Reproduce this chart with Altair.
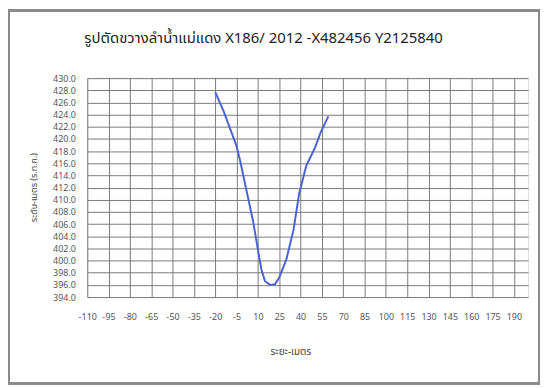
import altair as alt
import pandas as pd

# Cross-section profile
distance = [-20, -14, -8, -5, -2.5, 2, 6.5, 10, 12.5, 15, 18.5, 22, 25, 30, 35, 39, 44, 50, 54, 59.5]
elevation = [427.7, 424.5, 420.7, 418.8, 416.4, 411.5, 406.6, 401.8, 398.5, 396.6,
             396.0, 396.1, 397.2, 400.2, 405.0, 411.0, 415.6, 418.5, 421.0, 423.7]

x_ticks = list(range(-110, 191, 15))
y_ticks = list(range(394, 431, 2))

title_text = "รูปตัดขวางลำน้ำแม่แดง X186/ 2012 -X482456 Y2125840"
x_title = "ระยะ-เมตร"
y_title = "ระดับ-เมตร (ร.ท.ก.)"

df = pd.DataFrame({"d": distance, "z": elevation})

FONT = "Tahoma, Noto Sans Thai, Noto Sans, DejaVu Sans, sans-serif"

line = alt.Chart(df).mark_line(color="#4a64d2", strokeWidth=2).encode(
    x=alt.X("d:Q",
            scale=alt.Scale(domain=[-110, 200], nice=False, zero=False),
            axis=alt.Axis(values=x_ticks, title=x_title, grid=True, ticks=False,
                          domain=False, labelPadding=16, labelFontSize=9,
                          labelColor="#555555", labelFont=FONT,
                          gridColor="#7a7a7a", gridWidth=1, gridOpacity=1,
                          titleFont=FONT, titleFontSize=10, titleFontWeight="normal",
                          titleColor="#444444", titleX=205, titleY=55,
                          titleBaseline="middle", labelFlush=False)),
    y=alt.Y("z:Q",
            scale=alt.Scale(domain=[394, 430], nice=False, zero=False),
            axis=alt.Axis(values=y_ticks, format=".1f", title=y_title, grid=True,
                          ticks=False, domain=False, labelPadding=12, labelFontSize=9,
                          labelColor="#555555", labelFont=FONT,
                          gridColor="#7a7a7a", gridWidth=1, gridOpacity=1,
                          titleFont=FONT, titleFontSize=9, titleFontWeight="normal",
                          titleColor="#444444", titleX=-54, titleY=110,
                          titleBaseline="middle", titleAngle=-90, labelFlush=False)),
    order=alt.Order("d:Q"),
)

frame = alt.Chart(df).mark_rect(fill=None, stroke="#8a8a8a", strokeWidth=2).encode(
    x=alt.value(-79), x2=alt.value(456), y=alt.value(-68), y2=alt.value(308)
)

title = alt.Chart(pd.DataFrame({"t": [title_text]})).mark_text(
    font=FONT, fontSize=15, color="#222222", align="center", baseline="middle"
).encode(x=alt.value(178), y=alt.value(-40), text="t:N")

chart = alt.layer(frame, line, title).properties(
    width=445,
    height=221,
    autosize=alt.AutoSizeParams(type="none"),
    padding={"left": 80, "top": 69, "right": 12, "bottom": 88},
).configure_view(stroke="#7a7a7a", strokeWidth=1.5).configure(background="white")

chart.save("out.html", embed_options={"renderer": "svg", "actions": False})
